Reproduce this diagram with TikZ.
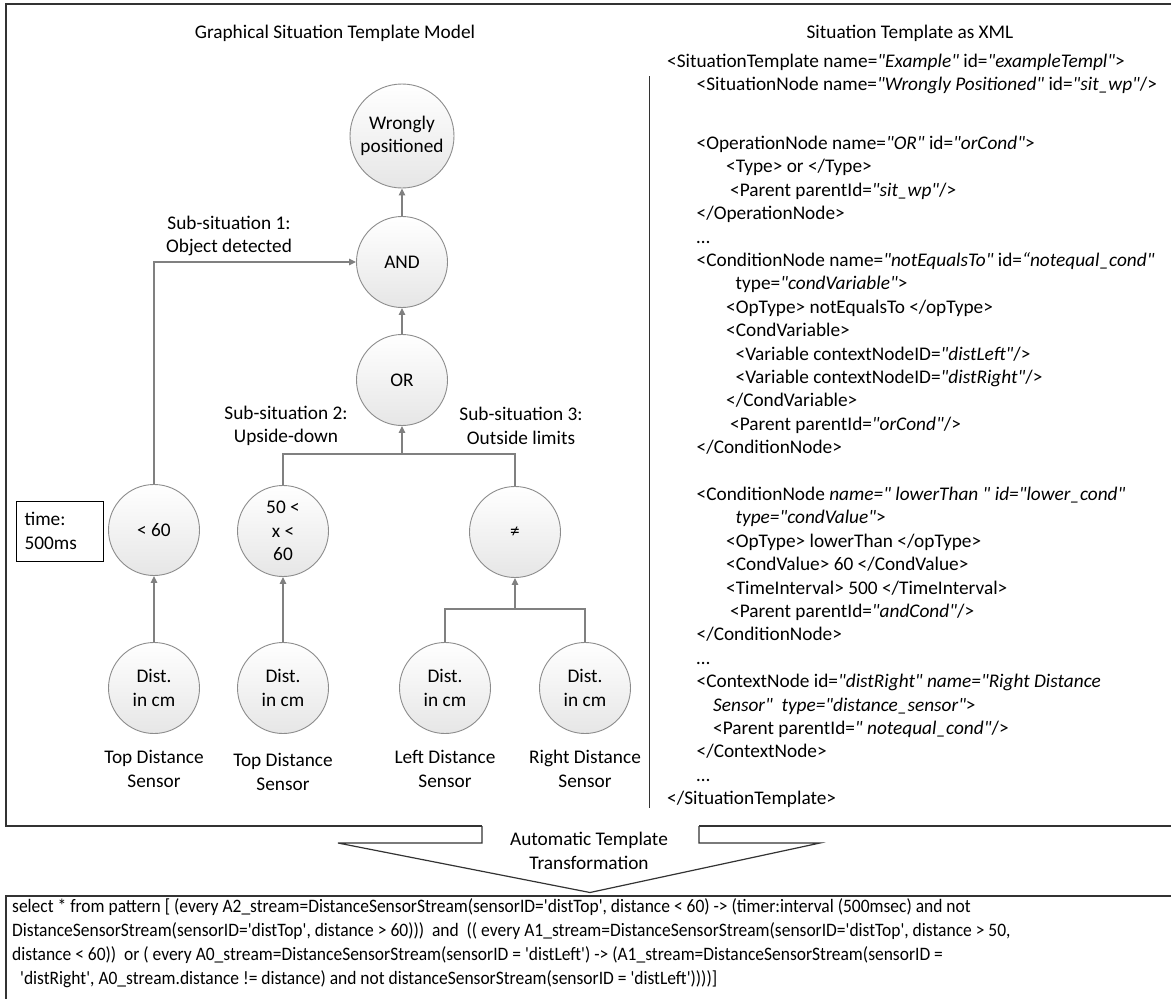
\documentclass[tikz,border=0pt]{standalone}
\usepackage{fontspec}
\usepackage{graphicx}
\newfontfamily\calib{Carlito}
\newfontfamily\calibnarrow[FakeStretch=0.92]{Carlito}
\usetikzlibrary{arrows.meta}

\definecolor{framecol}{HTML}{333333}
\definecolor{linkcol}{HTML}{808080}
\definecolor{ringcol}{HTML}{8C8C8C}
\definecolor{shadebot}{HTML}{E6E6E6}

\tikzset{
  body/.style={font=\calib\fontsize{19.3}{23.4}\selectfont},
  sitnode/.style={circle, draw=ringcol, line width=0.9pt, top color=white,
    bottom color=shadebot, minimum size=91pt, inner sep=0pt, align=center, body},
  caption/.style={align=center, body, inner sep=0pt},
  link/.style={draw=linkcol, line width=1.2pt},
  arr/.style={link, -{Triangle[length=7pt,width=6.5pt]}},
  frame/.style={draw=framecol, line width=1.2pt},
}

\begin{document}
\begin{tikzpicture}[x=1pt, y=-1pt]
\useasboundingbox (0,0) rectangle (1171,999);
\fill[white] (0,0) rectangle (1171,999);

% outer frame of the upper part and the panel separator
\draw[frame] (1185,4) -- (6,4) -- (6,826) -- (482,826);
\draw[frame] (699,826) -- (1185,826);
\draw[draw=framecol, line width=1pt] (649,76) -- (649,808);

% panel titles
\node[caption] (ltitle) at (335,33) {Graphical Situation Template Model};
\node[caption] (rtitle) at (910,33) {Situation Template as XML};

% situation tree
\node[sitnode, minimum size=104pt] (wp) at (402,136) {Wrongly\\positioned};
\node[sitnode] (and) at (402,262) {AND};
\node[sitnode] (or)  at (402,380) {OR};
\node[sitnode] (lt)  at (154,530) {< 60};
\node[sitnode] (rng) at (283,531) {50 <\\x <\\60};
\node[sitnode] (ne)  at (515,532) {≠};
\node[sitnode] (d1)  at (154,688) {Dist.\\in cm};
\node[sitnode] (d2)  at (283,688) {Dist.\\in cm};
\node[sitnode] (d3)  at (445,688) {Dist.\\in cm};
\node[sitnode] (d4)  at (585,688) {Dist.\\in cm};

\node[caption] (s1) at (229,236) {Sub-situation 1:\\Object detected};
\node[caption] (s2) at (286,426) {Sub-situation 2:\\Upside-down};
\node[caption] (s3) at (521,426) {Sub-situation 3:\\Outside limits};

\node[caption] (l1) at (154,769) {Top Distance\\Sensor};
\node[caption] (l2) at (283,772) {Top Distance\\Sensor};
\node[caption] (l3) at (445,769) {Left Distance\\Sensor};
\node[caption] (l4) at (585,769) {Right Distance\\Sensor};

\node[draw=black, line width=1pt, fill=white, minimum width=87pt, minimum height=60pt,
  text width=70pt, inner xsep=8.5pt, align=left, body] (tbox) at (59.5,531) {time:\\500ms};

% connectors
\coordinate (j2) at (402,454);
\coordinate (j3) at (515,609);
\draw[arr] (d1) -- (lt);
\draw[arr] (d2) -- (rng);
\draw[link] (d3.north) |- (j3) -| (d4.north);
\draw[arr] (j3) -- (ne);
\draw[arr] (lt.north) |- (and.west);
\draw[link] (rng.north) |- (j2) -| (ne.north);
\draw[arr] (j2) -- (or);
\draw[arr] (or) -- (and);
\draw[arr] (and) -- (wp);

% XML listing (anchored at the baseline of its last line)
\node[anchor=base west, inner sep=0pt, align=left, body] (xml) at (667,804.6) {%
<SituationTemplate name=\textit{"Example"} id=\textit{"exampleTempl"}>\\
\hspace*{29.5pt}<SituationNode name=\textit{"Wrongly Positioned"} id=\textit{"sit\_wp"}/>\\[35.1pt]
\hspace*{29.5pt}<OperationNode name=\textit{"OR"} id=\textit{"orCond"}>\\
\hspace*{59pt}<Type> or </Type>\\
\hspace*{63pt}<Parent parentId=\textit{"sit\_wp"}/>\\
\hspace*{29.5pt}</OperationNode>\\
\hspace*{29.5pt}…\\
\hspace*{29.5pt}<ConditionNode name=\textit{"notEqualsTo"} id=\textit{“notequal\_cond"}\\
\hspace*{68.5pt}type=\textit{"condVariable"}>\\
\hspace*{59pt}<OpType> notEqualsTo </opType>\\
\hspace*{59pt}<CondVariable>\\
\hspace*{68.5pt}<Variable contextNodeID=\textit{"distLeft"}/>\\
\hspace*{68.5pt}<Variable contextNodeID=\textit{"distRight"}/>\\
\hspace*{59pt}</CondVariable>\\
\hspace*{63pt}<Parent parentId=\textit{"orCond"}/>\\
\hspace*{29.5pt}</ConditionNode>\\[23.4pt]
\hspace*{29.5pt}<ConditionNode \textit{name=" lowerThan " id="lower\_cond"}\\
\hspace*{68.5pt}\textit{type="condValue"}>\\
\hspace*{59pt}<OpType> lowerThan </opType>\\
\hspace*{59pt}<CondValue> 60 </CondValue>\\
\hspace*{59pt}<TimeInterval> 500 </TimeInterval>\\
\hspace*{63pt}<Parent parentId=\textit{"andCond"}/>\\
\hspace*{29.5pt}</ConditionNode>\\
\hspace*{29.5pt}…\\
\hspace*{29.5pt}<ContextNode id=\textit{"distRight" name="Right Distance}\\
\hspace*{46pt}\textit{Sensor"\ \ type="distance\_sensor"}>\\
\hspace*{46pt}<Parent parentId=\textit{" notequal\_cond"}/>\\
\hspace*{29.5pt}</ContextNode>\\
\hspace*{29.5pt}…\\
</SituationTemplate>};

% transformation arrow between the two parts
\draw[frame, fill=white] (482,826) -- (482,843) -- (338,843) -- (590,892.5)
  -- (820,843) -- (699,843) -- (699,826);
\node[caption] (trans) at (589,851) {Automatic Template\\Transformation};

% generated query (anchored at the baseline of its last line)
\draw[frame] (1185,896) -- (6,896) -- (6,1005);
\node[anchor=base west, inner sep=0pt, align=left,
  font=\calibnarrow\fontsize{19}{24}\selectfont] (query) at (12,984.5) {%
select * from pattern [ (every A2\_stream=DistanceSensorStream(sensorID='distTop', distance < 60) -> (timer:interval (500msec) and not\\
DistanceSensorStream(sensorID='distTop', distance > 60)))\ \ and\ \ (( every A1\_stream=DistanceSensorStream(sensorID='distTop', distance > 50,\\
distance < 60))\ \ or ( every A0\_stream=DistanceSensorStream(sensorID = 'distLeft') -> (A1\_stream=DistanceSensorStream(sensorID =\\
\hspace*{8pt}'distRight', A0\_stream.distance != distance) and not distanceSensorStream(sensorID = 'distLeft'))))]};
\end{tikzpicture}
\end{document}
